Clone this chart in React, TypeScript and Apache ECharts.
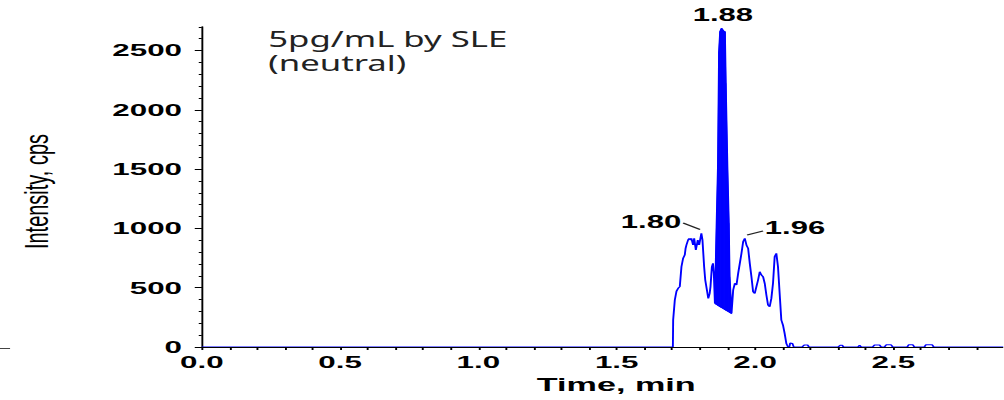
import React, { useEffect, useRef } from 'react';
import * as echarts from 'echarts';

// ---------- data ----------
const traceTime = [
  0, 1.703, 1.704, 1.710, 1.716, 1.722, 1.728, 1.734, 1.740, 1.746, 1.749, 1.752, 1.758, 1.762, 1.767,
  1.770, 1.776, 1.780, 1.786, 1.793, 1.798, 1.806, 1.810, 1.816, 1.820, 1.826, 1.831, 1.836, 1.839,
  1.844, 1.848, 1.851, 1.855,
  1.861, 1.866, 1.870, 1.874, 1.879, 1.885, 1.891, 1.894, 1.900, 1.905, 1.908, 1.915,
  1.921, 1.927, 1.933, 1.939, 1.945, 1.951, 1.957, 1.963, 1.969, 1.975, 1.981, 1.987, 1.993, 1.999,
  2.005, 2.011, 2.017, 2.023, 2.029, 2.035, 2.041, 2.047, 2.053, 2.059, 2.065, 2.071, 2.077, 2.083,
  2.089, 2.095, 2.101, 2.107, 2.113, 2.119,
  2.124, 2.127, 2.135, 2.140, 2.170, 2.178, 2.190, 2.195, 2.300, 2.308, 2.315, 2.320, 2.372, 2.378,
  2.384, 2.425, 2.432, 2.450, 2.456, 2.468, 2.474, 2.492, 2.498, 2.550, 2.556, 2.570, 2.576, 2.612,
  2.618, 2.640, 2.646, 2.9,
];
const traceIntensity = [
  0, 0, 228, 396, 470, 495, 509, 677, 748, 776, 832, 860, 902, 916, 902,
  916, 860, 916, 818, 902, 860, 958, 902, 677, 565, 481, 410, 452, 509,
  677, 705, 621, 368,
  1014, 1520, 2490, 2660, 2687, 2667, 2658, 2223, 1520, 1043, 593, 284,
  481, 537, 523, 621, 705, 790, 888, 916, 860, 832, 705, 593, 466, 452,
  509, 565, 635, 607, 593, 537, 438, 354, 340, 410, 537, 762, 790, 677,
  452, 228, 185, 115, 31, 0,
  0, 34, 30, 0, 0, 17, 17, 0, 0, 15, 15, 0, 0, 14,
  0, 0, 17, 17, 0, 0, 18, 18, 0, 0, 20, 20, 0, 0,
  20, 20, 0, 0,
];

// The dense (filled) part of the main peak: upper and lower envelopes
const spikeTime = [1.855, 1.861, 1.866, 1.870, 1.874, 1.879, 1.885, 1.891, 1.894, 1.900, 1.905, 1.908, 1.915];
const spikeHigh = [368, 1014, 1520, 2490, 2660, 2687, 2667, 2658, 2223, 1520, 1043, 593, 284];
const spikeLow = [368, 360, 352, 347, 341, 334, 326, 317, 313, 305, 298, 294, 284];

const xTickLabels = [0, 0.5, 1.0, 1.5, 2.0, 2.5];
const yTickLabels = [0, 500, 1000, 1500, 2000, 2500];

const peakTime = [1.806, 1.879, 1.963];
const peakIntensity = [958, 2687, 916];
const peakLabels = ['1.80', '1.88', '1.96'];

const titleLines = ['5pg/mL by SLE', '(neutral)'];
const xName = 'Time, min';
const yName = 'Intensity, cps';

// ---------- layout ----------
const SX = 1.9; // the reference is stretched horizontally
const W = 1004;
const H = 400;
const LW = W / SX;
const FONT = '"Liberation Sans", Arial, sans-serif';
const BLUE = '#0000ff';

// label offsets from their peak (local px): [labelDx, labelDy, lineX1, lineY1, lineX2, lineY2]
const peakLabelOffsets: (number[])[] = [
  [-26.5, -11.9, -9.6, -10.4, -0.7, -3.9],
  [0.7, -13.8],
  [26.4, -10.9, 1.2, -3.4, 9.6, -7.4],
];

export default function App() {
  const ref = useRef<HTMLDivElement>(null);

  useEffect(() => {
    const el = ref.current!;
    const chart = echarts.init(el, null, { renderer: 'svg', width: LW, height: H });

    const traceData = traceTime.map((t, i) => [t, traceIntensity[i]]);
    const bandData = spikeTime.map((t, i) => [t, spikeHigh[i], spikeLow[i]]);

    const option: any = {
      animation: false,
      backgroundColor: '#ffffff',
      grid: { left: 106.2, right: 0, top: 26.8, bottom: 53, outerBoundsMode: 'none' },
      xAxis: {
        type: 'value',
        min: 0,
        max: 2.9,
        interval: 0.1,
        z: 10,
        name: xName,
        nameLocation: 'middle',
        nameGap: 21,
        nameTextStyle: { fontFamily: FONT, fontSize: 18, fontWeight: 'bold', color: '#000', padding: [0, 0, 0, 14] },
        axisLine: { show: true, lineStyle: { color: '#000', width: 1 } },
        axisTick: { show: true, length: 3, lineStyle: { color: '#000', width: 1 } },
        axisLabel: {
          customValues: xTickLabels,
          formatter: (v: number) => v.toFixed(1),
          fontFamily: FONT,
          fontSize: 16.5,
          fontWeight: 'bold',
          color: '#000',
          margin: 7,
        },
        splitLine: { show: false },
      },
      yAxis: [
        {
          type: 'value',
          min: 0,
          max: 2700,
          interval: 100,
          axisLine: { show: true, lineStyle: { color: '#000', width: 1 } },
          axisTick: { show: true, length: 1.6, lineStyle: { color: '#000', width: 1 } },
          axisLabel: {
            customValues: yTickLabels,
            formatter: (v: number) => String(v),
            fontFamily: FONT,
            fontSize: 16.5,
            fontWeight: 'bold',
            color: '#000',
            margin: 10.4,
          },
          splitLine: { show: false },
        },
        {
          type: 'value',
          min: 0,
          max: 2700,
          interval: 100,
          position: 'left',
          offset: 0,
          axisLine: { show: false },
          axisTick: { show: true, customValues: yTickLabels, length: 3.7, lineStyle: { color: '#000', width: 1 } },
          axisLabel: { show: false },
          splitLine: { show: false },
        },
      ],
      series: [
        {
          // dense part of the main peak: filled between its lower and upper envelopes
          type: 'custom',
          data: bandData,
          encode: { x: 0, y: [1, 2] },
          z: 2,
          renderItem: (params: any, api: any) => {
            const i = params.dataIndex;
            if (i >= spikeTime.length - 1) return null;
            const a = api.coord([spikeTime[i], spikeHigh[i]]);
            const b = api.coord([spikeTime[i + 1], spikeHigh[i + 1]]);
            const c = api.coord([spikeTime[i + 1], spikeLow[i + 1]]);
            const d = api.coord([spikeTime[i], spikeLow[i]]);
            return {
              type: 'polygon',
              shape: { points: [a, b, c, d] },
              style: { fill: BLUE, stroke: BLUE, lineWidth: 0.6 },
            };
          },
        },
        {
          type: 'line',
          data: spikeTime.map((t, i) => [t, spikeLow[i]]),
          showSymbol: false,
          symbol: 'none',
          lineStyle: { color: BLUE, width: 1 },
          z: 3,
        },
        {
          type: 'line',
          data: traceData,
          showSymbol: false,
          symbol: 'none',
          lineStyle: { color: BLUE, width: 1 },
          z: 3,
        },
      ],
    };
    chart.setOption(option);

    const graphics: any[] = [
      {
        type: 'text',
        x: 19.2,
        y: 191.5,
        rotation: Math.PI / 2,
        scaleX: 1,
        scaleY: 0.86,
        style: { text: yName, font: `20px ${FONT}`, fill: '#000', align: 'center', verticalAlign: 'middle' },
      },
      ...titleLines.map((line, i) => ({
        type: 'text',
        x: 141.2,
        y: 38.8 + i * 23.3,
        scaleX: 0.87,
        style: { text: line, font: `21px "Noto Sans", "Open Sans", sans-serif`, fill: '#222', align: 'left', verticalAlign: 'middle' },
      })),
      {
        type: 'line',
        shape: { x1: 0, y1: 348.5, x2: 5.3, y2: 348.5 },
        style: { stroke: '#444', lineWidth: 1 },
      },
    ];

    peakTime.forEach((t, i) => {
      const p = chart.convertToPixel({ seriesIndex: 2 }, [t, peakIntensity[i]]) as number[];
      const o = peakLabelOffsets[i];
      graphics.push({
        type: 'text',
        x: p[0] + o[0],
        y: p[1] + o[1],
        scaleX: 0.86,
        z: 20,
        style: { text: peakLabels[i], font: `bold 19px ${FONT}`, fill: '#000', align: 'center', verticalAlign: 'middle' },
      });
      if (o.length > 2) {
        graphics.push({
          type: 'line',
          z: 20,
          shape: { x1: p[0] + o[2], y1: p[1] + o[3], x2: p[0] + o[4], y2: p[1] + o[5] },
          style: { stroke: '#222', lineWidth: 1 },
        });
      }
    });

    chart.setOption({ graphic: graphics });

    return () => chart.dispose();
  }, []);

  return (
    <div style={{ position: 'absolute', left: 0, top: 0, width: W, height: H, overflow: 'hidden', background: '#fff' }}>
      <div
        ref={ref}
        style={{ width: LW, height: H, transform: `scaleX(${SX})`, transformOrigin: '0 0' }}
      />
    </div>
  );
}
